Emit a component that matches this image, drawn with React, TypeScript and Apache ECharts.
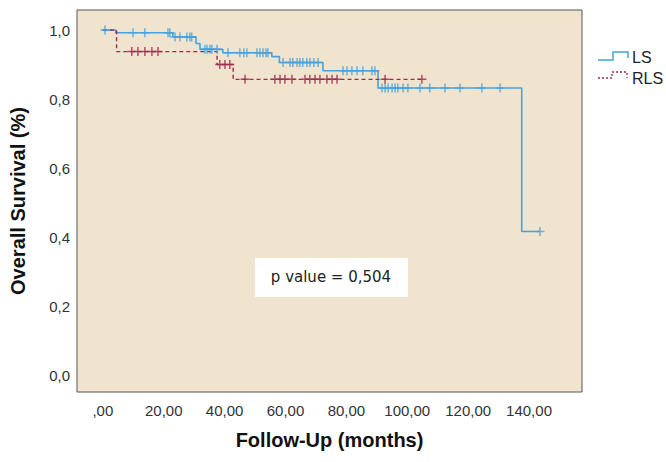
import React, { useEffect, useRef } from "react";
import * as echarts from "echarts";

// Kaplan-Meier step data (months, survival proportion)
const lsTimes = [0, 4.2, 23.0, 30.6, 31.9, 39.4, 55.5, 58.0, 72.3, 90.4, 137.6];
const lsSurv = [1.0, 0.992, 0.98, 0.961, 0.944, 0.934, 0.923, 0.906, 0.882, 0.832, 0.416];
const lsCensored = [
  0.7, 9.9, 13.8, 21.4, 22.0, 23.7, 25.3, 27.6, 28.6, 29.2, 33.5, 34.2, 35.2, 35.8, 37.5,
  41.1, 45.0, 46.3, 47.3, 50.6, 51.6, 52.6, 53.6, 54.2, 59.2, 61.5, 62.4, 63.8, 64.7, 65.7,
  67.0, 68.0, 69.3, 70.7, 78.9, 80.2, 81.8, 83.5, 85.4, 88.4, 89.4, 91.7, 92.7, 93.7, 95.0,
  96.0, 96.9, 98.6, 100.2, 104.2, 107.4, 112.4, 117.3, 124.5, 130.5, 143.6,
];

const rlsTimes = [0, 4.5, 37.5, 42.8];
const rlsSurv = [1.0, 0.9375, 0.9, 0.857];
const rlsCensored = [
  9.5, 11.5, 13.8, 16.1, 18.1, 38.4, 40.1, 41.7, 46.7, 56.5, 58.2, 59.8, 62.1, 66.4, 68.0,
  69.7, 71.3, 73.6, 75.3, 76.9, 92.7, 104.8,
];

const xTicks = [0, 20, 40, 60, 80, 100, 120, 140];
const yTicks = [0, 0.2, 0.4, 0.6, 0.8, 1.0];

const seriesNames = ["LS", "RLS"];
const pValueText = "p value = 0,504";

const BLUE = "#46A2DE";
const RED = "#9A2D4C";

function survAt(times: number[], surv: number[], t: number): number {
  let v = surv[0];
  for (let i = 0; i < times.length; i++) {
    if (times[i] <= t) v = surv[i];
  }
  return v;
}

function stepLine(times: number[], surv: number[], censored: number[]) {
  const pts = times.map((t, i) => [t, surv[i]]);
  const end = Math.max(...censored, times[times.length - 1]);
  pts.push([end, surv[surv.length - 1]]);
  return pts;
}

const CROSS = "path://M5,0L5,10M0,5L10,5";

export default function App() {
  const ref = useRef<HTMLDivElement>(null);

  useEffect(() => {
    if (!ref.current) return;
    const chart = echarts.init(ref.current, undefined, { renderer: "svg" });
    const font = "'Liberation Sans', Arial, sans-serif";

    chart.setOption({
      animation: false,
      backgroundColor: "#ffffff",
      grid: {
        left: 77,
        top: 10,
        right: 84,
        bottom: 70,
        show: true,
        backgroundColor: "#F0E4CE",
        borderColor: "#555555",
        borderWidth: 1,
      },
      xAxis: {
        type: "value",
        min: -8.5,
        max: 157.4,
        name: "Follow-Up (months)",
        nameLocation: "middle",
        nameGap: 38,
        nameTextStyle: { fontFamily: font, fontSize: 20, fontWeight: "bold", color: "#111" },
        axisLine: { show: false },
        axisTick: { show: false },
        splitLine: { show: false },
        axisLabel: {
          customValues: xTicks,
          margin: 11,
          fontFamily: font,
          fontSize: 15,
          color: "#333",
          formatter: (v: number) => (v === 0 ? ",00" : v.toFixed(2).replace(".", ",")),
        },
      },
      yAxis: {
        type: "value",
        min: -0.049,
        max: 1.058,
        name: "Overall Survival (%)",
        nameLocation: "middle",
        nameRotate: 90,
        nameGap: 49,
        nameTextStyle: { fontFamily: font, fontSize: 20, fontWeight: "bold", color: "#111" },
        axisLine: { show: false },
        axisTick: { show: false },
        splitLine: { show: false },
        axisLabel: {
          customValues: yTicks,
          margin: 7,
          fontFamily: font,
          fontSize: 15,
          color: "#333",
          formatter: (v: number) => v.toFixed(1).replace(".", ","),
        },
      },
      series: [
        {
          name: seriesNames[0],
          type: "line",
          step: "end",
          showSymbol: false,
          data: stepLine(lsTimes, lsSurv, lsCensored),
          lineStyle: { color: BLUE, width: 1.6 },
          z: 2,
        },
        {
          name: seriesNames[1],
          type: "line",
          step: "end",
          showSymbol: false,
          data: stepLine(rlsTimes, rlsSurv, rlsCensored),
          lineStyle: { color: RED, width: 1.4, type: [4, 3] },
          z: 3,
        },
        {
          name: seriesNames[0] + " censored",
          type: "scatter",
          symbol: CROSS,
          symbolSize: 9,
          data: lsCensored.map((t) => [t, survAt(lsTimes, lsSurv, t)]),
          itemStyle: { color: "none", borderColor: BLUE, borderWidth: 1.5 },
          z: 4,
        },
        {
          name: seriesNames[1] + " censored",
          type: "scatter",
          symbol: CROSS,
          symbolSize: 9,
          data: rlsCensored.map((t) => [t, survAt(rlsTimes, rlsSurv, t)]),
          itemStyle: { color: "none", borderColor: RED, borderWidth: 1.5 },
          z: 5,
        },
      ],
      graphic: [
        {
          type: "rect",
          shape: { x: 255, y: 258, width: 153, height: 39 },
          style: { fill: "#ffffff" },
          z: 10,
        },
        {
          type: "text",
          x: 331,
          y: 277,
          style: {
            text: pValueText,
            fontFamily: "'DejaVu Sans', sans-serif",
            fontSize: 15,
            fill: "#222",
            align: "center",
            verticalAlign: "middle",
          },
          z: 11,
        },
        {
          type: "polyline",
          shape: { points: [[598, 60], [613, 60], [613, 52], [628, 52], [628, 58]] },
          style: { stroke: BLUE, lineWidth: 1.5, fill: "none" },
        },
        {
          type: "text",
          x: 632,
          y: 57,
          style: {
            text: seriesNames[0],
            fontFamily: font,
            fontSize: 16,
            fill: "#222",
            align: "left",
            verticalAlign: "middle",
          },
        },
        {
          type: "polyline",
          shape: { points: [[598, 78], [612, 78], [612, 72], [627, 72], [627, 78]] },
          style: { stroke: RED, lineWidth: 1.3, fill: "none", lineDash: [2, 2] },
        },
        {
          type: "text",
          x: 632,
          y: 78,
          style: {
            text: seriesNames[1],
            fontFamily: font,
            fontSize: 16,
            fill: "#222",
            align: "left",
            verticalAlign: "middle",
          },
        },
      ],
    });

    return () => chart.dispose();
  }, []);

  return (
    <div
      ref={ref}
      style={{ position: "absolute", left: 0, top: 0, width: 666, height: 462 }}
    />
  );
}
